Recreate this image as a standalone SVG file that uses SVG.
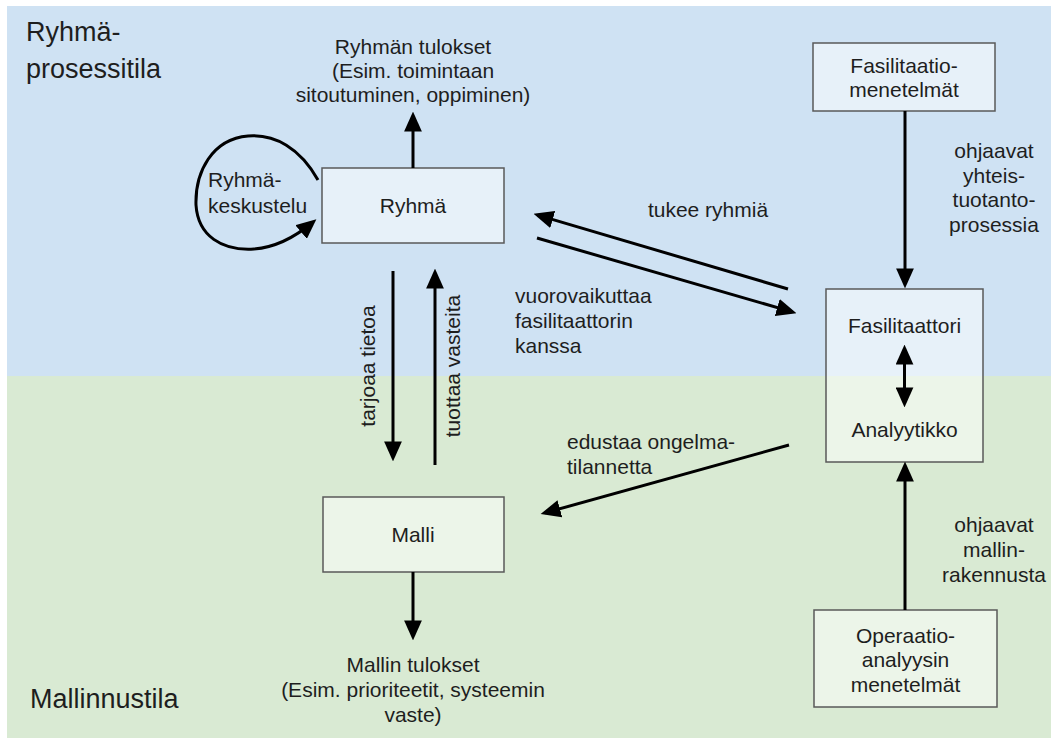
<svg xmlns="http://www.w3.org/2000/svg" width="1051" height="738" viewBox="0 0 1051 738">
<style>
text{font-family:"Liberation Sans",Arial,sans-serif;font-size:21px;fill:#1e1e1e}
.c{text-anchor:middle}
.title{font-size:27px}
.box{fill:#ffffff;fill-opacity:0.5;stroke:#595959;stroke-width:1.5}
.ln{fill:none;stroke:#000;stroke-width:3}
</style>
<defs>
<marker id="ah" markerUnits="userSpaceOnUse" markerWidth="20" markerHeight="18" refX="14" refY="8" orient="auto-start-reverse" viewBox="0 0 18 16">
<path d="M0,0 L18,8 L0,16 z" fill="#000"/>
</marker>
</defs>
<g id="background">
<rect x="7" y="6" width="1044" height="370" fill="#cfe2f3"/>
<rect x="7" y="376" width="1044" height="362" fill="#d9ead3"/>
<text class="title" x="26" y="41">Ryhmä-</text>
<text class="title" x="26" y="78">prosessitila</text>
<text class="title" x="30" y="708">Mallinnustila</text>
</g>
<g id="ryhman-tulokset">
<text class="c" x="413" y="54">Ryhmän tulokset</text>
<text class="c" x="413" y="78">(Esim. toimintaan</text>
<text class="c" x="413" y="102">sitoutuminen, oppiminen)</text>
</g>
<g id="ryhma">
<rect class="box" x="322" y="168" width="182" height="75"/>
<text class="c" x="413" y="213">Ryhmä</text>
</g>
<g id="malli">
<rect class="box" x="323" y="497" width="181" height="75"/>
<text class="c" x="413" y="542">Malli</text>
</g>
<g id="mallin-tulokset">
<text class="c" x="413" y="672">Mallin tulokset</text>
<text class="c" x="413" y="697">(Esim. prioriteetit, systeemin</text>
<text class="c" x="413" y="722">vaste)</text>
</g>
<g id="fasilitaatiomenetelmat">
<rect class="box" x="813" y="43" width="182" height="68"/>
<text class="c" x="904" y="73">Fasilitaatio-</text>
<text class="c" x="904" y="97">menetelmät</text>
</g>
<g id="fasilitaattori-analyytikko">
<rect class="box" x="826" y="289" width="157" height="173"/>
<text class="c" x="904.5" y="333">Fasilitaattori</text>
<text class="c" x="904.5" y="437">Analyytikko</text>
</g>
<g id="operaatioanalyysin-menetelmat">
<rect class="box" x="814" y="610" width="183" height="97"/>
<text class="c" x="905.5" y="643">Operaatio-</text>
<text class="c" x="905.5" y="667">analyysin</text>
<text class="c" x="905.5" y="692">menetelmät</text>
</g>
<g id="connectors">
<line class="ln" x1="413" y1="168" x2="413" y2="116" marker-end="url(#ah)"/>
<path class="ln" d="M318,180 C300,148 275,134 248,136 C212,139 195,172 196,205 C198,236 222,251 254,249 C280,247 300,233 313,222" marker-end="url(#ah)"/>
<line class="ln" x1="788" y1="289" x2="537.8" y2="215.1" marker-end="url(#ah)"/>
<line class="ln" x1="537" y1="238" x2="792.2" y2="311.9" marker-end="url(#ah)"/>
<line class="ln" x1="393" y1="271" x2="393" y2="457" marker-end="url(#ah)"/>
<line class="ln" x1="435" y1="465" x2="435" y2="273" marker-end="url(#ah)"/>
<line class="ln" x1="789" y1="445" x2="544.9" y2="512.9" marker-end="url(#ah)"/>
<line class="ln" x1="413" y1="572" x2="413" y2="636" marker-end="url(#ah)"/>
<line class="ln" x1="905" y1="111" x2="905" y2="284" marker-end="url(#ah)"/>
<line class="ln" x1="905" y1="610" x2="905" y2="466" marker-end="url(#ah)"/>
<line class="ln" x1="904.5" y1="349" x2="904.5" y2="403" marker-start="url(#ah)" marker-end="url(#ah)"/>
<text x="208" y="187">Ryhmä-</text>
<text x="208" y="213">keskustelu</text>
<text class="c" x="708" y="217">tukee ryhmiä</text>
<text x="515" y="303">vuorovaikuttaa</text>
<text x="515" y="328">fasilitaattorin</text>
<text x="515" y="353">kanssa</text>
<text class="c" transform="translate(375,366) rotate(-90)">tarjoaa tietoa</text>
<text class="c" transform="translate(460,366) rotate(-90)">tuottaa vasteita</text>
<text x="567" y="449">edustaa ongelma-</text>
<text x="567" y="474">tilannetta</text>
<text class="c" x="994" y="158">ohjaavat</text>
<text class="c" x="994" y="183">yhteis-</text>
<text class="c" x="994" y="207">tuotanto-</text>
<text class="c" x="994" y="232">prosessia</text>
<text class="c" x="994" y="532">ohjaavat</text>
<text class="c" x="994" y="557">mallin-</text>
<text class="c" x="994" y="582">rakennusta</text>
</g>
</svg>
